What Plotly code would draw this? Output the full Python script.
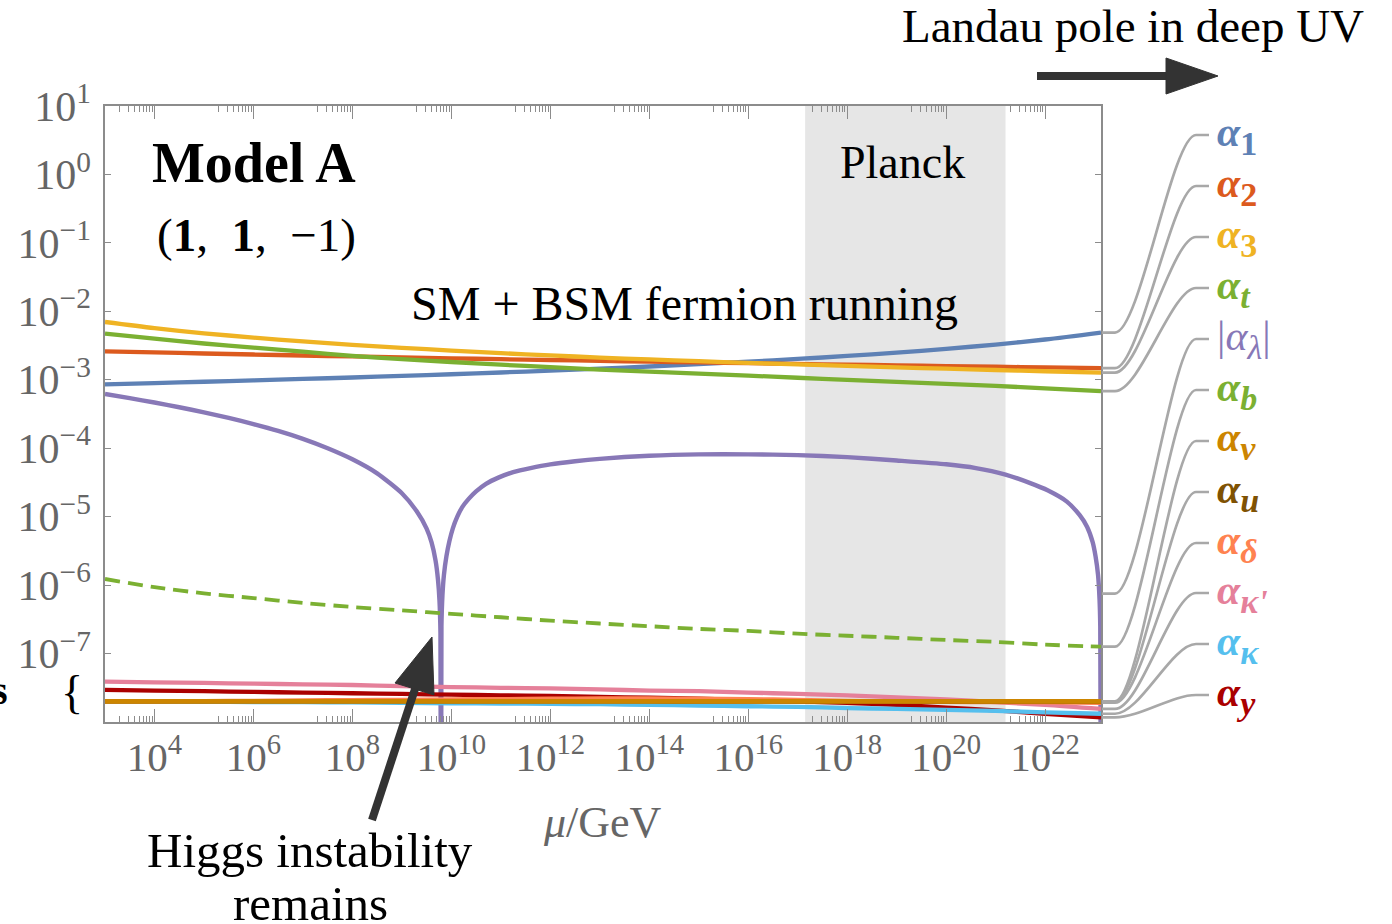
import math
import plotly.graph_objects as go

# ---------------------------------------------------------------- data
# renormalisation scale, log10(mu / GeV)
mu_exp = [3, 4, 5, 6, 7, 8, 9, 10, 11, 12, 13, 14, 15, 16, 17, 18, 19, 20, 21, 22, 23.13]

alpha_1 = [8.59e-4, 8.96e-4, 9.36e-4, 9.80e-4, 1.028e-3, 1.080e-3, 1.139e-3, 1.205e-3, 1.278e-3, 1.361e-3,
           1.455e-3, 1.564e-3, 1.690e-3, 1.838e-3, 2.015e-3, 2.229e-3, 2.494e-3, 2.830e-3, 3.272e-3, 3.878e-3, 4.90e-3]
alpha_2 = [2.604e-3, 2.509e-3, 2.421e-3, 2.339e-3, 2.262e-3, 2.191e-3, 2.123e-3, 2.060e-3, 2.000e-3, 1.944e-3,
           1.890e-3, 1.840e-3, 1.792e-3, 1.747e-3, 1.704e-3, 1.663e-3, 1.623e-3, 1.586e-3, 1.550e-3, 1.516e-3, 1.479e-3]
alpha_3 = [6.99e-3, 5.68e-3, 4.78e-3, 4.13e-3, 3.63e-3, 3.24e-3, 2.93e-3, 2.67e-3, 2.45e-3, 2.27e-3,
           2.11e-3, 1.981e-3, 1.868e-3, 1.766e-3, 1.676e-3, 1.594e-3, 1.519e-3, 1.452e-3, 1.390e-3, 1.333e-3, 1.274e-3]
alpha_t = [4.72e-3, 3.98e-3, 3.39e-3, 2.95e-3, 2.57e-3, 2.24e-3, 2.00e-3, 1.82e-3, 1.66e-3, 1.53e-3,
           1.41e-3, 1.32e-3, 1.23e-3, 1.15e-3, 1.07e-3, 1.00e-3, 9.33e-4, 8.71e-4, 8.13e-4, 7.50e-4, 6.84e-4]
alpha_b = [1.23e-6, 9.33e-7, 7.59e-7, 6.46e-7, 5.50e-7, 4.79e-7, 4.27e-7, 3.80e-7, 3.39e-7, 3.02e-7,
           2.75e-7, 2.51e-7, 2.29e-7, 2.14e-7, 1.95e-7, 1.82e-7, 1.70e-7, 1.58e-7, 1.48e-7, 1.35e-7, 1.26e-7]

# BSM couplings (tiny)
alpha_y = [2.95e-8, 2.88e-8, 2.82e-8, 2.75e-8, 2.69e-8, 2.63e-8, 2.57e-8, 2.51e-8, 2.45e-8, 2.40e-8,
           2.32e-8, 2.26e-8, 2.19e-8, 2.09e-8, 2.00e-8, 1.91e-8, 1.78e-8, 1.62e-8, 1.48e-8, 1.32e-8, 1.17e-8]
alpha_kappa = [2.00e-8, 1.99e-8, 1.97e-8, 1.96e-8, 1.95e-8, 1.93e-8, 1.91e-8, 1.88e-8, 1.86e-8, 1.84e-8,
               1.82e-8, 1.78e-8, 1.74e-8, 1.70e-8, 1.66e-8, 1.60e-8, 1.55e-8, 1.50e-8, 1.45e-8, 1.38e-8, 1.32e-8]
alpha_kappa_p = [3.89e-8, 3.80e-8, 3.72e-8, 3.63e-8, 3.55e-8, 3.47e-8, 3.35e-8, 3.24e-8, 3.16e-8, 3.09e-8,
                 2.99e-8, 2.88e-8, 2.82e-8, 2.69e-8, 2.57e-8, 2.45e-8, 2.29e-8, 2.14e-8, 1.95e-8, 1.78e-8, 1.55e-8]
alpha_delta = [2.00e-8, 2.005e-8, 2.02e-8, 2.04e-8, 2.07e-8, 2.09e-8, 2.11e-8, 2.14e-8, 2.16e-8, 2.19e-8,
               2.21e-8, 2.21e-8, 2.19e-8, 2.16e-8, 2.11e-8, 2.04e-8, 2.00e-8, 1.97e-8, 1.95e-8, 1.93e-8, 1.91e-8]
alpha_u = [2.00e-8, 2.00e-8, 2.00e-8, 2.00e-8, 2.00e-8, 2.00e-8, 2.00e-8, 2.00e-8, 2.00e-8, 2.00e-8,
           2.00e-8, 2.00e-8, 1.99e-8, 1.99e-8, 1.99e-8, 1.99e-8, 1.99e-8, 1.98e-8, 1.98e-8, 1.98e-8, 1.98e-8]
alpha_v = [2.00e-8, 2.00e-8, 2.00e-8, 2.00e-8, 2.00e-8, 2.00e-8, 2.00e-8, 2.00e-8, 2.00e-8, 2.00e-8,
           2.00e-8, 2.00e-8, 2.00e-8, 2.00e-8, 2.00e-8, 2.00e-8, 2.00e-8, 2.00e-8, 2.00e-8, 2.00e-8, 2.00e-8]

# |alpha_lambda|: below and above the sign change near 10^9.8 GeV, second zero near the Landau pole
lam_exp_lo = [3.0, 3.5, 4.0, 4.5, 5.0, 5.5, 6.0, 6.5, 7.0, 7.5, 8.0, 8.5, 9.0, 9.3, 9.5, 9.6, 9.68, 9.73, 9.76, 9.78, 9.79]
lam_abs_lo = [6.2e-4, 5.38e-4, 4.65e-4, 3.97e-4, 3.35e-4, 2.77e-4, 2.25e-4, 1.79e-4, 1.37e-4, 1.0e-4, 6.9e-5,
              4.3e-5, 2.2e-5, 1.2e-5, 6.7e-6, 4.2e-6, 2.3e-6, 1.2e-6, 6e-7, 2e-7, 1e-10]
lam_exp_hi = [9.79, 9.80, 9.82, 9.85, 9.90, 9.96, 10.03, 10.12, 10.22, 10.35, 10.5, 10.7, 10.95, 11.25, 11.6,
              12.0, 12.5, 13.0, 14.0, 15.0, 16.0, 17.0, 18.0, 19.0, 20.0, 20.6, 21.2, 21.7, 22.05, 22.44, 22.7,
              22.85, 22.96, 23.02, 23.07, 23.10, 23.115, 23.13]
lam_abs_hi = [1e-10, 2.5e-7, 7.1e-7, 1.41e-6, 2.63e-6, 4.37e-6, 6.76e-6, 1.0e-5, 1.38e-5, 1.82e-5, 2.34e-5,
              3.02e-5, 3.72e-5, 4.47e-5, 5.13e-5, 5.82e-5, 6.46e-5, 7.0e-5, 7.76e-5, 8.13e-5, 8.13e-5, 7.94e-5,
              7.41e-5, 6.61e-5, 5.82e-5, 5.13e-5, 4.12e-5, 3.09e-5, 2.43e-5, 1.66e-5, 1.05e-5, 7.08e-6, 4.27e-6,
              2.63e-6, 1.41e-6, 6.3e-7, 2.5e-7, 1e-10]
lam_label_value = 7.5e-7   # where the |alpha_lambda| label line attaches

planck_band = [10.0 ** 17.15, 10.0 ** 21.2]

x_major_exp = [4, 6, 8, 10, 12, 14, 16, 18, 20, 22]
x_minor_decades = [3, 5, 7, 9, 11, 13, 15, 17, 19, 21]
y_major_exp = [-7, -6, -5, -4, -3, -2, -1, 0, 1]

# ---------------------------------------------------------------- style
SERIF = "Liberation Serif"
FRAME = "#8c8c8c"
GRAYTXT = "#666666"
C = {
    "a1": "#5e81b5", "a2": "#dc5a1e", "a3": "#efb323", "at": "#7bb032", "al": "#8878b7",
    "av": "#cc8500", "au": "#7f5203", "ad": "#ff8250", "akp": "#e5809a", "ak": "#55bfee", "ay": "#aa0000",
}

W, H = 1392, 924
ML, MR, MT, MB = 105, 291, 106, 202
PW, PH = W - ML - MR, H - MT - MB
Y_LO, Y_HI = -8, 1
X_LO, X_HI = 3.0, 23.13


def pxx(xp):
    return (xp - ML) / PW


def pxy(yp):
    return (MT + PH - yp) / PH


def val_to_pix_y(v):
    return MT + PH * (Y_HI - math.log10(v)) / (Y_HI - Y_LO)


fig = go.Figure()


def add_line(xe, yv, color, width=4.3, dash=None, shape="spline", smoothing=0.8):
    fig.add_trace(go.Scatter(
        x=[10.0 ** e for e in xe], y=yv, mode="lines",
        line=dict(color=color, width=width, dash=dash, shape=shape, smoothing=smoothing),
        hoverinfo="skip", showlegend=False))


# gauge and Yukawa couplings
add_line(mu_exp, alpha_1, C["a1"])
add_line(mu_exp, alpha_2, C["a2"])
add_line(mu_exp, alpha_3, C["a3"])
add_line(mu_exp, alpha_t, C["at"])
# Higgs quartic
add_line(lam_exp_lo, lam_abs_lo, C["al"], width=4.4, smoothing=0.6)
add_line(lam_exp_hi, lam_abs_hi, C["al"], width=4.4, smoothing=0.6)
# bottom Yukawa
add_line(mu_exp, alpha_b, C["at"], width=3.8, dash="15px,8px")
# BSM couplings
add_line(mu_exp, alpha_y, C["ay"])
add_line(mu_exp, alpha_kappa, C["ak"])
add_line(mu_exp, alpha_kappa_p, C["akp"])
add_line(mu_exp, alpha_delta, C["ad"])
add_line(mu_exp, alpha_u, C["au"])
add_line(mu_exp, alpha_v, C["av"], width=4.6)

# carrier for the top frame axis
fig.add_trace(go.Scatter(x=[1e5], y=[1e-3], xaxis="x2", mode="markers",
                         marker=dict(opacity=0), hoverinfo="skip", showlegend=False))

x_minor_vals = [k * 10.0 ** d for d in x_minor_decades for k in range(2, 10)]
x_tick_common = dict(
    type="log", range=[X_LO, X_HI], showgrid=False, zeroline=False,
    showline=True, linecolor=FRAME, linewidth=1.5,
    ticks="inside", ticklen=13, tickwidth=1.2, tickcolor=FRAME,
    tickmode="array", tickvals=[10.0 ** e for e in x_major_exp],
    minor=dict(tickmode="array", tickvals=x_minor_vals, ticks="inside", ticklen=6,
               tickwidth=1, tickcolor=FRAME, showgrid=False),
)

fig.update_layout(
    width=W, height=H, margin=dict(l=ML, r=MR, t=MT, b=MB, autoexpand=False),
    paper_bgcolor="white", plot_bgcolor="white", showlegend=False,
    xaxis=dict(**x_tick_common,
               ticktext=[f"10<sup>{e}</sup>" for e in x_major_exp],
               tickfont=dict(family=SERIF, size=41, color=GRAYTXT), ticklabelstandoff=-2),
    xaxis2=dict(**x_tick_common, overlaying="x", side="top", anchor="y", showticklabels=False),
    yaxis=dict(type="log", range=[Y_LO, Y_HI], showgrid=False, zeroline=False,
               showline=True, mirror="ticks", linecolor=FRAME, linewidth=1.5,
               ticks="inside", ticklen=6, tickwidth=1.2, tickcolor=FRAME,
               tickmode="array", tickvals=[10.0 ** e for e in y_major_exp],
               ticktext=[f"10<sup>{str(e).replace('-', '−')}</sup>" for e in y_major_exp],
               tickfont=dict(family=SERIF, size=42, color=GRAYTXT), ticklabelstandoff=4),
)

shapes = []
# Planck region
shapes.append(dict(type="rect", xref="x", yref="paper", x0=planck_band[0], x1=planck_band[1], y0=0, y1=1,
                   fillcolor="#e6e6e6", line=dict(width=0), layer="below"))

# label leader lines
series_end = [alpha_1[-1], alpha_2[-1], alpha_3[-1], alpha_t[-1], lam_label_value, alpha_b[-1],
              alpha_v[-1], alpha_u[-1], alpha_delta[-1], alpha_kappa_p[-1], alpha_kappa[-1], alpha_y[-1]]
label_rows = [135, 186, 237, 288, 339, 390, 441, 492, 543, 593, 644, 695]


def sub(s):
    return f'<sub><span style="font-size:34px">{s}</span></sub>'


label_text = [
    ("<b><i>α</i>" + sub("1") + "</b>", C["a1"]),
    ("<b><i>α</i>" + sub("2") + "</b>", C["a2"]),
    ("<b><i>α</i>" + sub("3") + "</b>", C["a3"]),
    ("<b><i>α</i>" + sub("<i>t</i>") + "</b>", C["at"]),
    ("|<i>α</i>" + sub("<i>λ</i>") + "|", C["al"]),
    ("<b><i>α</i>" + sub("<i>b</i>") + "</b>", C["at"]),
    ("<b><i>α</i>" + sub("<i>v</i>") + "</b>", C["av"]),
    ("<b><i>α</i>" + sub("<i>u</i>") + "</b>", C["au"]),
    ("<b><i>α</i>" + sub("<i>δ</i>") + "</b>", C["ad"]),
    ("<b><i>α</i>" + sub("<i>κ'</i>") + "</b>", C["akp"]),
    ("<b><i>α</i>" + sub("<i>κ</i>") + "</b>", C["ak"]),
    ("<b><i>α</i>" + sub("<i>y</i>") + "</b>", C["ay"]),
]
for v, yl in zip(series_end, label_rows):
    y0 = val_to_pix_y(v)
    pts = [(1102, y0), (1115, y0), (1140, y0), (1172, yl), (1196, yl), (1209, yl)]
    p = [(pxx(a), pxy(b)) for a, b in pts]
    path = (f"M {p[0][0]},{p[0][1]} L {p[1][0]},{p[1][1]} "
            f"C {p[2][0]},{p[2][1]} {p[3][0]},{p[3][1]} {p[4][0]},{p[4][1]} L {p[5][0]},{p[5][1]}")
    shapes.append(dict(type="path", xref="paper", yref="paper", path=path,
                       line=dict(color="#a8a8a8", width=2.7)))

# arrows
ARROW = "#333333"


def arrow(tail, base, tip, c1, c2, width):
    shapes.append(dict(type="line", xref="paper", yref="paper",
                       x0=pxx(tail[0]), y0=pxy(tail[1]), x1=pxx(base[0]), y1=pxy(base[1]),
                       line=dict(color=ARROW, width=width)))
    tri = (f"M {pxx(tip[0])},{pxy(tip[1])} L {pxx(c1[0])},{pxy(c1[1])} "
           f"L {pxx(c2[0])},{pxy(c2[1])} Z")
    shapes.append(dict(type="path", xref="paper", yref="paper", path=tri,
                       fillcolor=ARROW, line=dict(color=ARROW, width=1)))


arrow((1037, 76), (1170, 76), (1218, 76), (1166, 58), (1166, 94), 8)
arrow((372, 820), (416, 686), (432, 637), (395, 683), (434, 695), 8)

fig.update_layout(shapes=shapes)

ann = []


def text(xp, yp, s, size, color="black", xanchor="center", bold=False):
    ann.append(dict(xref="paper", yref="paper", x=pxx(xp), y=pxy(yp), text=f"<b>{s}</b>" if bold else s,
                    showarrow=False, xanchor=xanchor, yanchor="middle",
                    font=dict(family=SERIF, size=size, color=color)))


text(150, 163, "Model A", 56, xanchor="left", bold=True)
text(155, 235, "(<b>1</b>,\u2002<b>1</b>,\u2002−1)", 47, xanchor="left")
text(684, 303, "SM + BSM fermion running", 48)
text(902, 162, "Planck", 46)
text(1133, 26, "Landau pole in deep UV", 47)
text(310, 850, "Higgs instability", 49)
text(310, 903, "remains", 49)
text(602, 822, "<i>μ</i>/GeV", 44, color=GRAYTXT)
text(72, 692, "{", 46)
text(10, 690, "s", 40, xanchor="right", bold=True)

for (s, col), yl in zip(label_text, label_rows):
    ann.append(dict(xref="paper", yref="paper", x=pxx(1215), y=pxy(yl), text=s, showarrow=False,
                    xanchor="left", yanchor="middle",
                    font=dict(family=SERIF, size=42, color=col)))

fig.update_layout(annotations=ann)
fig.write_html("out.html")
